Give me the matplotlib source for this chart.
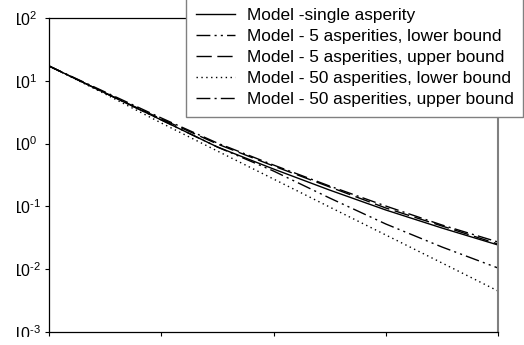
import matplotlib
matplotlib.use("Agg")
import matplotlib.pyplot as plt
from matplotlib.transforms import Bbox

plt.rcParams['font.family'] = ['Liberation Sans', 'DejaVu Sans']
plt.rcParams['mathtext.fontset'] = 'custom'
plt.rcParams['mathtext.rm'] = 'Liberation Sans'
plt.rcParams['mathtext.it'] = 'Liberation Sans:italic'
plt.rcParams['mathtext.bf'] = 'Liberation Sans:bold'
plt.rcParams['mathtext.default'] = 'rm'

# data (x has no tick labels in the original)
x = [0, 0.5, 1, 1.5, 2, 2.5, 3, 3.5, 4]
single = [17.2, 6.40, 2.38, 0.883, 0.394, 0.182, 0.0877, 0.0453, 0.0243]
five_lower = [17.2, 6.40, 2.38, 0.883, 0.366, 0.136, 0.0525, 0.0226, 0.01045]
five_upper = [17.2, 6.40, 2.47, 0.986, 0.440, 0.204, 0.0944, 0.0488, 0.0252]
fifty_lower = [17.2, 6.17, 2.13, 0.762, 0.273, 0.0977, 0.0351, 0.0126, 0.0045]
fifty_upper = [17.2, 6.63, 2.56, 1.02, 0.456, 0.211, 0.1014, 0.0506, 0.0271]

labels = ["Model -single asperity",
          "Model - 5 asperities, lower bound",
          "Model - 5 asperities, upper bound",
          "Model - 50 asperities, lower bound",
          "Model - 50 asperities, upper bound"]

ytick_vals = [1e-3, 1e-2, 1e-1, 1e0, 1e1, 1e2]
ytick_labels = [r"$10^{\text{-}3}$", r"$10^{\text{-}2}$", r"$10^{\text{-}1}$",
                r"$10^{0}$", r"$10^{1}$", r"$10^{2}$"]
xtick_vals = [0, 1, 2, 3, 4]

fig = plt.figure(figsize=(5.24, 3.45), dpi=100)
ax = fig.add_axes([49/524, 13/345, 449/524, 314/345])

ax.plot(x, single, color="black", lw=1.0, ls="-", label=labels[0])
ax.plot(x, five_lower, color="black", lw=1.0, ls=(0, (10, 3, 1.5, 3, 1.5, 3)), label=labels[1])
ax.plot(x, five_upper, color="black", lw=1.0, ls=(0, (11, 4)), label=labels[2])
ax.plot(x, fifty_lower, color="black", lw=1.0, ls=(0, (1, 2.5)), label=labels[3])
ax.plot(x, fifty_upper, color="black", lw=1.0, ls=(0, (10, 3, 1.5, 3)), label=labels[4])

ax.set_yscale("log")
ax.set_ylim(1e-3, 1e2)
ax.set_xlim(0, 4)
ax.set_xticks(xtick_vals)
ax.set_xticklabels([])
ax.set_yticks(ytick_vals)
ax.set_yticklabels(ytick_labels)
ax.minorticks_off()
ax.tick_params(direction="out", length=3, width=0.8, labelsize=11.5, pad=23.5, colors="black")

for s in ["left", "bottom", "top"]:
    ax.spines[s].set_color("black")
    ax.spines[s].set_linewidth(0.9)
ax.spines["right"].set_color("#808080")
ax.spines["right"].set_linewidth(1.5)

# labels in the original are left aligned and cut at the left and bottom
clip = Bbox.from_extents(16.5, 8, 48, 345)
for t in ax.get_yticklabels():
    t.set_horizontalalignment("left")
    t.set_clip_box(clip)
    t.set_clip_on(True)

leg = ax.legend(loc="lower left", bbox_to_anchor=(186/524, 228/345), bbox_transform=fig.transFigure,
                fontsize=12.45, frameon=True, fancybox=False, edgecolor="#808080", framealpha=1,
                handlelength=2.3, handletextpad=0.68, labelspacing=0.35, borderpad=0.55, borderaxespad=0)
leg.get_frame().set_linewidth(1.0)

fig.savefig("out.png", dpi=100)
